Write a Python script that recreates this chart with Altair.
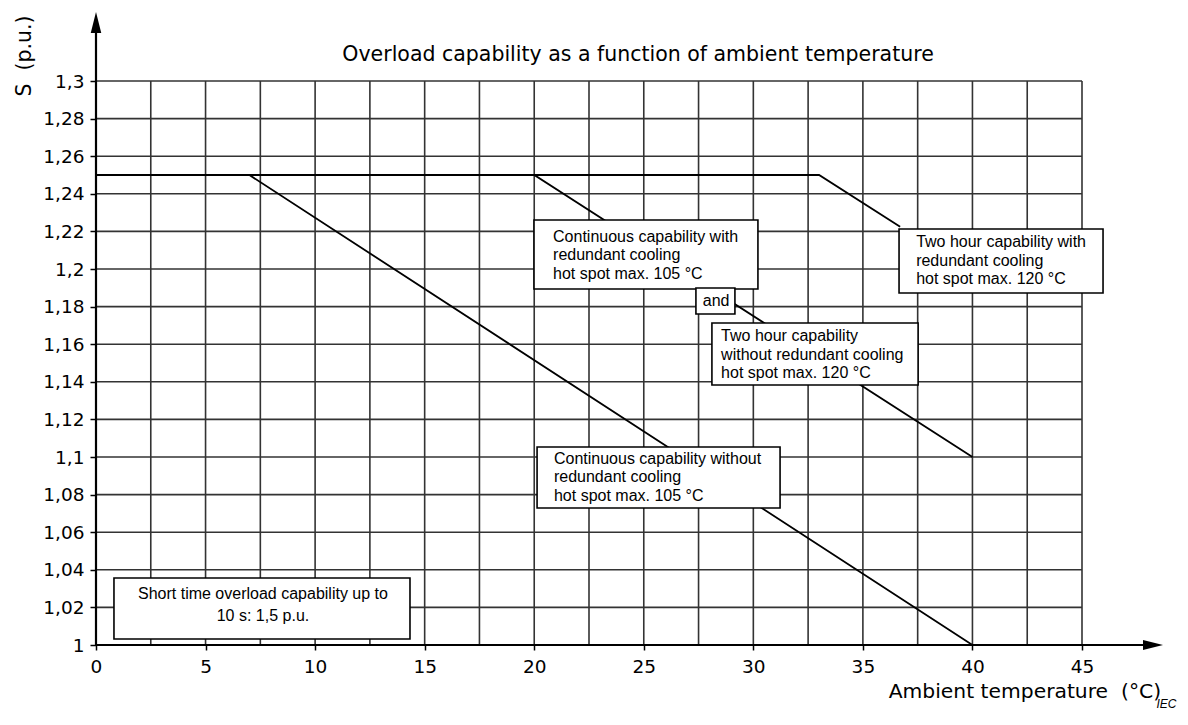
import altair as alt
import pandas as pd

# ---------------- data ----------------
x_ticks = [0, 5, 10, 15, 20, 25, 30, 35, 40, 45]
y_ticks = [1.0, 1.02, 1.04, 1.06, 1.08, 1.1, 1.12, 1.14, 1.16, 1.18, 1.2,
           1.22, 1.24, 1.26, 1.28, 1.3]
x_grid = [2.5, 5, 7.5, 10, 12.5, 15, 17.5, 20, 22.5, 25, 27.5, 30, 32.5,
          35, 37.5, 40, 42.5, 45]
y_grid = [1.02, 1.04, 1.06, 1.08, 1.1, 1.12, 1.14, 1.16, 1.18, 1.2, 1.22,
          1.24, 1.26, 1.28, 1.3]

cont_without_x = [0, 7, 40]
cont_without_y = [1.25, 1.25, 1.0]
cont_with_x = [0, 20, 40]
cont_with_y = [1.25, 1.25, 1.1]
twohour_with_x = [0, 33, 36.7]
twohour_with_y = [1.25, 1.25, 1.2225]

title_text = "Overload capability as a function of ambient temperature"
x_title = "Ambient temperature \u00a0(\u00b0C)"
y_title = "S \u00a0(p.u.)"

note_texts = [
    "Short time overload capability up to\n10 s: 1,5 p.u.",
    "Continuous capability with\nredundant cooling\nhot spot max. 105 \u00b0C",
    "and",
    "Two hour capability\nwithout redundant cooling\nhot spot max. 120 \u00b0C",
    "Two hour capability with\nredundant cooling\nhot spot max. 120 \u00b0C",
    "Continuous capability without\nredundant cooling\nhot spot max. 105 \u00b0C",
]
note_x0 = [0.82, 19.99, 27.38, 28.11, 36.65, 20.13]
note_x1 = [14.33, 30.21, 29.16, 37.52, 45.96, 31.22]
note_y0 = [1.0032, 1.1894, 1.1761, 1.1383, 1.1872, 1.0729]
note_y1 = [1.0356, 1.2261, 1.1899, 1.1713, 1.2213, 1.1053]
# text anchors (data space)
note_tx = [7.62, 20.86, 28.3, 28.53, 37.43, 20.90]
note_ty = [1.0315, 1.2213, 1.183, 1.1685, 1.2186, 1.1034]

# ---------------- scales / axes ----------------
XMIN, XMAX = 0, 45
YMIN, YMAX = 1.0, 1.3
xscale = alt.Scale(domain=[XMIN, XMAX], nice=False, zero=False)
yscale = alt.Scale(domain=[YMIN, YMAX], nice=False, zero=False)

xaxis = alt.Axis(values=x_ticks, title=None, grid=False, domain=False, format="d",
                 tickSize=5, tickColor="black", tickWidth=1.5, labelPadding=7,
                 labelFont="DejaVu Sans", labelFontSize=18.5, labelColor="black",
                 labelFlush=False, labelOverlap=False)
yaxis = alt.Axis(values=y_ticks, title=None, grid=False, domain=False,
                 labelExpr="replace(format(datum.value, '.2~f'), '.', ',')",
                 tickSize=6, tickColor="black", tickWidth=1.5, labelPadding=6,
                 labelFont="DejaVu Sans", labelFontSize=18.5, labelColor="black",
                 labelFlush=False, labelOverlap=False)


def X(f):
    return alt.X(f, type="quantitative", scale=xscale, axis=xaxis)


def Y(f):
    return alt.Y(f, type="quantitative", scale=yscale, axis=yaxis)


# ---------------- tables ----------------
grid_v = pd.DataFrame({"x": x_grid, "y0": YMIN, "y1": YMAX})
grid_h = pd.DataFrame({"y": y_grid, "x0": XMIN, "x1": XMAX})

curves = pd.DataFrame({
    "x": cont_without_x + cont_with_x + twohour_with_x,
    "y": cont_without_y + cont_with_y + twohour_with_y,
    "curve": ["a"] * 3 + ["b"] * 3 + ["c"] * 3,
    "order": [0, 1, 2] * 3,
})

axes_lines = pd.DataFrame({"x0": [0, 0], "x1": [0, 47.8],
                           "y0": [1.0, 1.0], "y1": [1.3255, 1.0]})
arrow_up = pd.DataFrame({"x": [0], "y": [1.3311]})
arrow_right = pd.DataFrame({"x": [48.24], "y": [1.0]})

notes = pd.DataFrame({"text": note_texts, "x0": note_x0, "x1": note_x1,
                      "y0": note_y0, "y1": note_y1, "tx": note_tx, "ty": note_ty})
notes_left = notes.iloc[[1, 3, 4, 5]]
notes_center = notes.iloc[[0]]
notes_and = notes.iloc[[2]]

titles = pd.DataFrame({"text": [title_text], "x": [24.74], "y": [1.3109]})
xtitle = pd.DataFrame({"text": [x_title], "x": [48.61], "y": [0.97207]})
ytitle = pd.DataFrame({"text": [y_title], "x": [-3.25], "y": [1.3133]})
iec = pd.DataFrame({"text": ["IEC"], "x": [48.4], "y": [0.96649]})

# ---------------- layers ----------------
GRID = "#333333"
l_gv = alt.Chart(grid_v).mark_rule(color=GRID, strokeWidth=1.6).encode(
    x=X("x"), y=Y("y0"), y2="y1")
l_gh = alt.Chart(grid_h).mark_rule(color=GRID, strokeWidth=1.6).encode(
    x=X("x0"), x2="x1", y=Y("y"))
l_curves = alt.Chart(curves).mark_line(color="black", strokeWidth=1.8).encode(
    x=X("x"), y=Y("y"), detail="curve:N", order="order:Q")
l_axes = alt.Chart(axes_lines).mark_rule(color="black", strokeWidth=2.2).encode(
    x=X("x0"), x2="x1", y=Y("y0"), y2="y1")
l_arr_up = alt.Chart(arrow_up).mark_point(
    shape="M0,-1L0.5,1L-0.5,1Z", size=441, filled=True, color="black", opacity=1
).encode(x=X("x"), y=Y("y"))
l_arr_right = alt.Chart(arrow_right).mark_point(
    shape="M1,0L-1,-0.5L-1,0.5Z", size=400, filled=True, color="black", opacity=1
).encode(x=X("x"), y=Y("y"))

l_boxes = alt.Chart(notes).mark_rect(fill="white", stroke="black", strokeWidth=1.6).encode(
    x=X("x0"), x2="x1", y=Y("y0"), y2="y1")
l_txt_left = alt.Chart(notes_left).mark_text(
    align="left", baseline="top", lineBreak="\n", lineHeight=18.5,
    font="Liberation Sans", fontSize=16, color="black"
).encode(x=X("tx"), y=Y("ty"), text="text:N")
l_txt_center = alt.Chart(notes_center).mark_text(
    align="center", baseline="top", lineBreak="\n", lineHeight=22.7,
    font="Liberation Sans", fontSize=16, color="black"
).encode(x=X("tx"), y=Y("ty"), text="text:N")
l_txt_and = alt.Chart(notes_and).mark_text(
    align="center", baseline="middle", font="Liberation Sans", fontSize=16, color="black"
).encode(x=X("tx"), y=Y("ty"), text="text:N")

l_title = alt.Chart(titles).mark_text(
    align="center", baseline="alphabetic", font="DejaVu Sans", fontSize=20.5, color="black"
).encode(x=X("x"), y=Y("y"), text="text:N")
l_xtitle = alt.Chart(xtitle).mark_text(
    align="right", baseline="alphabetic", font="DejaVu Sans", fontSize=20.3, color="black"
).encode(x=X("x"), y=Y("y"), text="text:N")
l_ytitle = alt.Chart(ytitle).mark_text(
    align="center", baseline="middle", angle=270, font="DejaVu Sans", fontSize=20.5,
    color="black"
).encode(x=X("x"), y=Y("y"), text="text:N")
l_iec = alt.Chart(iec).mark_text(
    align="left", baseline="alphabetic", font="Liberation Sans", fontSize=12,
    fontStyle="italic", color="black"
).encode(x=X("x"), y=Y("y"), text="text:N")

chart = alt.layer(
    l_gv, l_gh, l_curves, l_axes, l_arr_up, l_arr_right,
    l_boxes, l_txt_left, l_txt_center, l_txt_and,
    l_title, l_xtitle, l_ytitle, l_iec,
).properties(
    width=986, height=564,
    padding={"left": 88, "top": 73, "right": 98, "bottom": 66},
    autosize=alt.AutoSizeParams(type="none"),
    background="white",
).configure_view(stroke=None)

chart.save("out.html", embed_options={"renderer": "svg", "actions": False})
